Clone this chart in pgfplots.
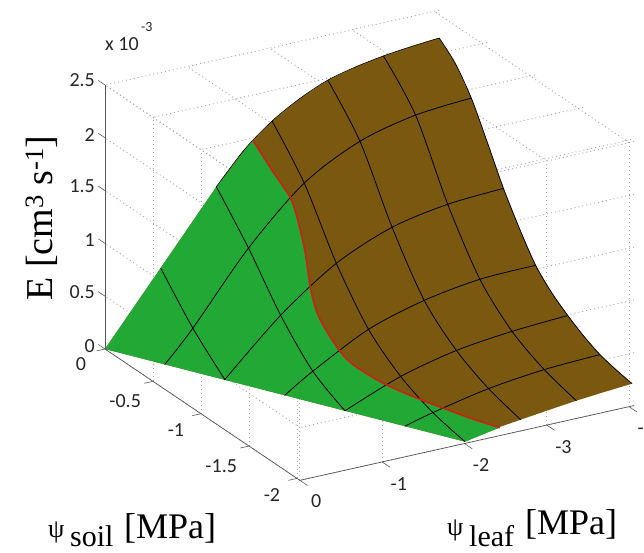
\documentclass[border=0pt]{standalone}
\usepackage{pgfplots}
\pgfplotsset{compat=1.18}
\usepackage{fontspec}
\setmainfont{Carlito}
\newfontfamily\serifx{Liberation Serif}
\definecolor{leafbrown}{RGB}{122,88,16}
\definecolor{leafgreen}{RGB}{34,168,52}
\definecolor{redline}{RGB}{205,32,20}
\definecolor{axgray}{RGB}{85,85,85}
\begin{document}
\begin{tikzpicture}
\path[use as bounding box] (-105pt,349pt) rectangle (539pt,-204pt);
\begin{axis}[
  at={(0pt,0pt)}, anchor=origin,
  x={(-82.3pt,-18.42pt)}, y={(-96pt,64.7pt)}, z={(0pt,105.6pt)},
  xmin=-4.06, xmax=0, ymin=-2.03, ymax=0, zmin=0, zmax=2.5,
  clip=false,
  axis line style={draw=none},
  tickpos=left,
  xtick={-4,-3,-2,-1,0}, xticklabels={-4,-3,-2,-1,0},
  ytick={-2,-1.5,-1,-0.5,0}, yticklabels={-2,-1.5,-1,-0.5,0\hspace{-6pt}},
  ztick={0,0.5,1,1.5,2,2.5}, zticklabels={0,0.5,1,1.5,2,2.5},
  tick align=outside, major tick length=8pt,
  major tick style={draw=none},
  tick label style={font=\fontsize{20}{20}\selectfont, text=black!85},
  x tick label style={xshift=4pt, yshift=-6pt},
  y tick label style={xshift=-8pt, yshift=-3pt},
  z tick label style={yshift=-3pt},
  grid=major,
  grid style={gray!70, line width=0.9pt, dash pattern=on 1pt off 3pt},
]
% whole surface in brown
\addplot3[fill=leafbrown, draw=none] coordinates {
(0,0,0)(-0.677,0,0.649)(-1.353,0,1.30)(-1.69,0,1.59)(-2.03,0,1.805)(-2.37,0,1.96)(-2.707,0,2.074)(-3.045,0,2.14)(-3.383,0,2.185)(-3.72,0,2.215)(-4.06,0,2.237)
(-4.06,-0.167,2.10)(-4.06,-0.335,1.873)(-4.06,-0.5,1.56)(-4.06,-0.67,1.223)(-4.06,-0.84,0.94)(-4.06,-1.005,0.70)(-4.06,-1.17,0.545)(-4.06,-1.34,0.43)(-4.06,-1.5,0.34)(-4.06,-1.675,0.265)(-4.06,-1.84,0.225)(-4.06,-2.01,0.195)
(-3.72,-2.01,0.175)(-3.383,-2.01,0.152)(-3.045,-2.01,0.122)(-2.707,-2.01,0.09)(-2.45,-2.01,0.065)(-2.03,-2.01,0)(0,0,0)};
% green part, bounded by the red line
\addplot3[fill=leafgreen, draw=none] coordinates {
(0,0,0)(-0.677,0,0.649)(-1.353,0,1.30)(-1.797,0,1.665)
(-1.833,-0.167,1.477)(-1.857,-0.335,1.32)(-1.842,-0.42,1.186)(-1.786,-0.55,0.963)(-1.712,-0.67,0.706)(-1.640,-0.78,0.60)(-1.609,-0.88,0.505)(-1.675,-1.005,0.31)(-1.731,-1.12,0.223)(-1.845,-1.34,0.164)(-2.03,-1.56,0.118)(-2.173,-1.675,0.083)(-2.298,-1.83,0.067)(-2.452,-2.01,0.059)
(-2.03,-2.01,0)(0,0,0)};
% lines of constant psi_soil
\addplot3[black, line width=0.8pt, smooth] coordinates {(-0.335,-0.335,0)(-0.677,-0.335,0.284)(-1.353,-0.335,0.925)(-2.03,-0.335,1.422)(-2.707,-0.335,1.70)(-3.383,-0.335,1.83)(-4.06,-0.335,1.873)};
\addplot3[black, line width=0.8pt, smooth] coordinates {(-0.67,-0.67,0)(-1.353,-0.67,0.494)(-2.03,-0.67,0.868)(-2.707,-0.67,1.091)(-3.383,-0.67,1.191)(-4.06,-0.67,1.223)};
\addplot3[black, line width=0.8pt, smooth] coordinates {(-1.01,-1.005,0)(-1.353,-1.005,0.169)(-2.03,-1.005,0.448)(-2.707,-1.005,0.604)(-3.383,-1.005,0.686)(-4.06,-1.005,0.70)};
\addplot3[black, line width=0.8pt, smooth] coordinates {(-1.353,-1.34,0)(-2.03,-1.34,0.207)(-2.707,-1.34,0.335)(-3.383,-1.34,0.398)(-4.06,-1.34,0.43)};
\addplot3[black, line width=0.8pt, smooth] coordinates {(-1.69,-1.675,0)(-2.03,-1.675,0.07)(-2.707,-1.675,0.179)(-3.383,-1.675,0.241)(-4.06,-1.675,0.265)};
% lines of constant psi_leaf
\addplot3[black, line width=0.8pt, smooth] coordinates {(-0.677,0,0.649)(-0.677,-0.335,0.284)(-0.677,-0.67,0)};
\addplot3[black, line width=0.8pt, smooth] coordinates {(-1.353,0,1.30)(-1.353,-0.335,0.925)(-1.353,-0.67,0.494)(-1.353,-1.005,0.169)(-1.353,-1.34,0)};
\addplot3[black, line width=0.8pt, smooth] coordinates {(-2.03,0,1.805)(-2.03,-0.335,1.422)(-2.03,-0.67,0.868)(-2.03,-1.005,0.448)(-2.03,-1.34,0.207)(-2.03,-1.675,0.07)(-2.03,-2.01,0)};
\addplot3[black, line width=0.8pt, smooth] coordinates {(-2.707,0,2.074)(-2.707,-0.335,1.70)(-2.707,-0.67,1.091)(-2.707,-1.005,0.604)(-2.707,-1.34,0.335)(-2.707,-1.675,0.179)(-2.707,-2.01,0.09)};
\addplot3[black, line width=0.8pt, smooth] coordinates {(-3.383,0,2.185)(-3.383,-0.335,1.83)(-3.383,-0.67,1.191)(-3.383,-1.005,0.686)(-3.383,-1.34,0.398)(-3.383,-1.675,0.241)(-3.383,-2.01,0.152)};
% dark outline, top and right
\addplot3[black, line width=0.6pt, smooth] coordinates {(-1.353,0,1.30)(-1.69,0,1.59)(-2.03,0,1.805)(-2.37,0,1.96)(-2.707,0,2.074)(-3.045,0,2.14)(-3.383,0,2.185)(-3.72,0,2.215)(-4.06,0,2.237)};
\addplot3[black, line width=0.8pt, smooth] coordinates {(-4.06,0,2.237)(-4.06,-0.167,2.10)(-4.06,-0.335,1.873)(-4.06,-0.5,1.56)(-4.06,-0.67,1.223)(-4.06,-0.84,0.94)(-4.06,-1.005,0.70)(-4.06,-1.17,0.545)(-4.06,-1.34,0.43)(-4.06,-1.5,0.34)(-4.06,-1.675,0.265)(-4.06,-1.84,0.225)(-4.06,-2.01,0.195)};
% red line
\addplot3[redline, line width=1.6pt, smooth] coordinates {(-1.797,0,1.665)(-1.833,-0.167,1.477)(-1.857,-0.335,1.32)(-1.842,-0.42,1.186)(-1.786,-0.55,0.963)(-1.712,-0.67,0.706)(-1.640,-0.78,0.60)(-1.609,-0.88,0.505)(-1.675,-1.005,0.31)(-1.731,-1.12,0.223)(-1.845,-1.34,0.164)(-2.03,-1.56,0.118)(-2.173,-1.675,0.083)(-2.298,-1.83,0.067)(-2.452,-2.01,0.059)};
% the three axis lines
\addplot3[axgray, line width=0.7pt] coordinates {(0,0,0)(0,0,2.5)};
\addplot3[axgray, line width=0.7pt] coordinates {(0,0,0)(0,-2.03,0)};
\addplot3[axgray, line width=0.7pt] coordinates {(0,-2.03,0)(-4.06,-2.03,0)};
% tick marks, in the directions of the reference
\addplot3[axgray, line width=0.6pt] coordinates {(0,0,0)(0,0.07,0)};
\addplot3[axgray, line width=0.6pt] coordinates {(0,0,0.5)(0,0.07,0.5)};
\addplot3[axgray, line width=0.6pt] coordinates {(0,0,1)(0,0.07,1)};
\addplot3[axgray, line width=0.6pt] coordinates {(0,0,1.5)(0,0.07,1.5)};
\addplot3[axgray, line width=0.6pt] coordinates {(0,0,2)(0,0.07,2)};
\addplot3[axgray, line width=0.6pt] coordinates {(0,0,2.5)(0,0.07,2.5)};
\addplot3[axgray, line width=0.6pt] coordinates {(0,0,0)(0.105,0,0)};
\addplot3[axgray, line width=0.6pt] coordinates {(0,-0.5,0)(0.105,-0.5,0)};
\addplot3[axgray, line width=0.6pt] coordinates {(0,-1,0)(0.105,-1,0)};
\addplot3[axgray, line width=0.6pt] coordinates {(0,-1.5,0)(0.105,-1.5,0)};
\addplot3[axgray, line width=0.6pt] coordinates {(0,-2,0)(0.105,-2,0)};
\addplot3[axgray, line width=0.6pt] coordinates {(0,-2.03,0)(0,-2.11,0)};
\addplot3[axgray, line width=0.6pt] coordinates {(-1,-2.03,0)(-1,-2.11,0)};
\addplot3[axgray, line width=0.6pt] coordinates {(-2,-2.03,0)(-2,-2.11,0)};
\addplot3[axgray, line width=0.6pt] coordinates {(-3,-2.03,0)(-3,-2.11,0)};
\addplot3[axgray, line width=0.6pt] coordinates {(-4,-2.03,0)(-4,-2.11,0)};
\end{axis}
\node[anchor=base west, inner sep=0pt, font=\fontsize{20}{20}\selectfont, text=black!85] at (0pt,298pt) {x 10};
\node[anchor=base west, inner sep=0pt, font=\fontsize{14}{14}\selectfont, text=black!85] at (36pt,317pt) {-3};
\node[rotate=90, anchor=center, font=\serifx\fontsize{38}{38}\selectfont] at (-63pt,131pt) {E [cm\textsuperscript{3} s\textsuperscript{-1}]};
\node[anchor=base west, inner sep=0pt, font=\serifx\fontsize{26}{26}\selectfont] at (-57pt,-188pt) {ψ};
\node[anchor=base west, inner sep=0pt, font=\serifx\fontsize{30}{30}\selectfont] at (-35pt,-197pt) {soil};
\node[anchor=base west, inner sep=0pt, font=\serifx\fontsize{36}{36}\selectfont] at (19pt,-189pt) {[MPa]};
\node[anchor=base west, inner sep=0pt, font=\serifx\fontsize{26}{26}\selectfont] at (342pt,-186pt) {ψ};
\node[anchor=base west, inner sep=0pt, font=\serifx\fontsize{30}{30}\selectfont] at (364pt,-197pt) {leaf};
\node[anchor=base west, inner sep=0pt, font=\serifx\fontsize{36}{36}\selectfont] at (420pt,-185pt) {[MPa]};
\end{tikzpicture}
\end{document}
